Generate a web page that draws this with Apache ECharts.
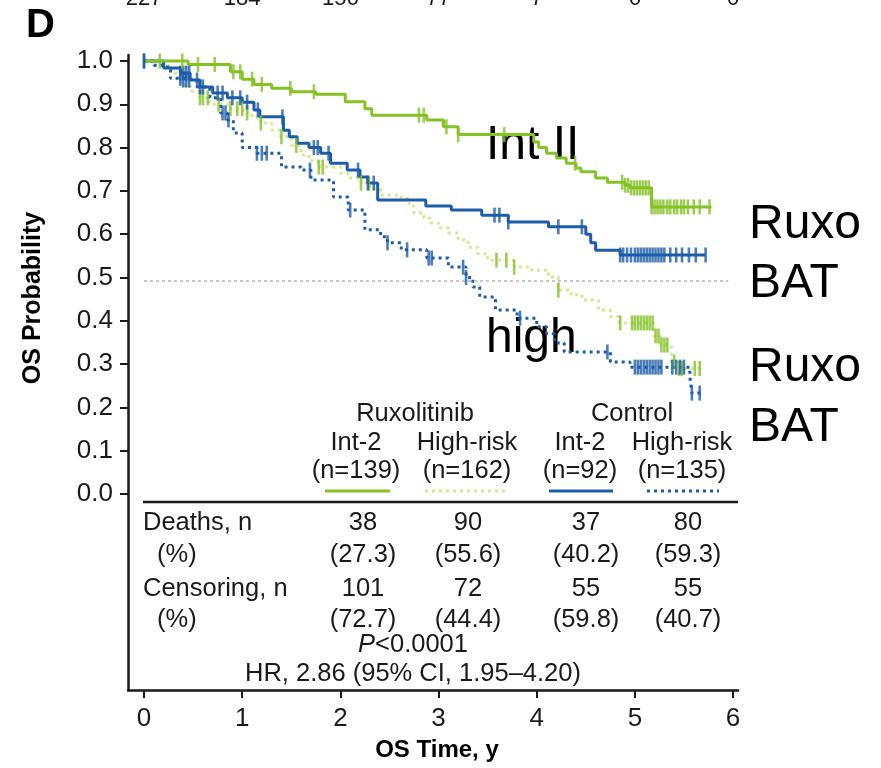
<!DOCTYPE html>
<html>
<head>
<meta charset="utf-8">
<script src="https://cdn.jsdelivr.net/npm/echarts@6/dist/echarts.min.js"></script>
<style>html,body{margin:0;padding:0;background:#fff}#c{width:881px;height:768px}</style>
</head>
<body>
<div id="c"></div>
<script>
// ---------- data ----------
const xTicks = [0, 1, 2, 3, 4, 5, 6];
const yTicks = [0, 0.1, 0.2, 0.3, 0.4, 0.5, 0.6, 0.7, 0.8, 0.9, 1.0];
const topAtRisk = ['227', '184', '156', '77', '7', '0', '0'];

// Kaplan-Meier steps [time (y), OS probability]
const ruxInt2 = [[0,1],[0.45,0.992],[0.88,0.975],[1.0,0.958],[1.12,0.946],[1.3,0.937],[1.5,0.929],[1.75,0.923],[2.05,0.906],[2.25,0.89],[2.32,0.875],[2.88,0.864],[3.05,0.848],[3.2,0.83],[3.97,0.813],[4.02,0.8],[4.1,0.787],[4.2,0.776],[4.3,0.764],[4.4,0.753],[4.45,0.744],[4.6,0.73],[4.72,0.72],[4.9,0.713],[4.95,0.707],[5.17,0.663],[5.78,0.663]];
const ruxHigh = [[0,1],[0.1,0.99],[0.25,0.98],[0.32,0.96],[0.37,0.945],[0.47,0.93],[0.57,0.915],[0.67,0.9],[0.85,0.89],[1.01,0.88],[1.1,0.87],[1.19,0.857],[1.3,0.84],[1.39,0.825],[1.5,0.805],[1.6,0.783],[1.68,0.77],[1.77,0.755],[2.0,0.74],[2.1,0.73],[2.21,0.718],[2.3,0.705],[2.41,0.69],[2.62,0.683],[2.7,0.665],[2.75,0.649],[2.85,0.637],[2.92,0.626],[3.0,0.615],[3.1,0.603],[3.2,0.587],[3.3,0.57],[3.4,0.555],[3.5,0.54],[3.77,0.524],[3.95,0.517],[4.12,0.501],[4.22,0.471],[4.35,0.46],[4.46,0.448],[4.63,0.425],[4.75,0.41],[4.84,0.395],[5.19,0.365],[5.26,0.344],[5.37,0.305],[5.45,0.29],[5.68,0.29]];
const ctrlInt2 = [[0,1],[0.2,0.984],[0.37,0.972],[0.47,0.956],[0.57,0.94],[0.7,0.926],[0.85,0.915],[1.0,0.905],[1.12,0.887],[1.18,0.871],[1.42,0.84],[1.48,0.825],[1.56,0.81],[1.68,0.8],[1.8,0.787],[1.9,0.764],[2.07,0.748],[2.2,0.732],[2.28,0.718],[2.38,0.679],[2.87,0.665],[3.13,0.656],[3.44,0.644],[3.71,0.628],[4.12,0.617],[4.5,0.6],[4.55,0.58],[4.6,0.563],[4.85,0.552],[5.72,0.552]];
const ctrlHigh = [[0,1],[0.1,0.99],[0.24,0.98],[0.27,0.96],[0.4,0.956],[0.54,0.94],[0.67,0.915],[0.78,0.88],[0.85,0.864],[0.91,0.834],[1.0,0.8],[1.15,0.787],[1.4,0.755],[1.6,0.748],[1.7,0.725],[1.93,0.686],[2.08,0.656],[2.25,0.61],[2.41,0.594],[2.48,0.58],[2.62,0.564],[2.88,0.545],[3.1,0.524],[3.28,0.5],[3.35,0.478],[3.42,0.455],[3.58,0.425],[3.8,0.406],[4.0,0.386],[4.1,0.37],[4.18,0.349],[4.28,0.328],[4.75,0.305],[4.95,0.293],[5.56,0.27],[5.58,0.233],[5.7,0.233]];

// censoring times (y)
const ruxInt2Cens = [0.16,0.39,0.55,0.72,0.91,0.98,1.1,1.2,1.49,1.73,2.8,2.85,3.08,3.2,3.67,4.39,4.87,4.9,4.93,4.96,4.99,5.02,5.05,5.08,5.11,5.14,5.17,5.2,5.23,5.26,5.29,5.33,5.36,5.4,5.43,5.47,5.5,5.54,5.6,5.66,5.76];
const ruxHighCens = [0.57,0.6,0.65,0.76,0.88,0.95,1.0,1.05,1.19,1.4,1.55,1.78,1.82,2.21,2.29,3.59,3.69,3.77,4.22,4.85,4.97,5.0,5.03,5.06,5.09,5.12,5.15,5.18,5.21,5.24,5.27,5.3,5.33,5.4,5.45,5.48,5.61,5.66];
const ctrlInt2Cens = [0.0,0.37,0.4,0.43,0.46,0.54,0.57,0.6,0.75,0.8,0.9,0.98,1.05,1.16,1.41,1.73,1.77,1.88,2.18,2.28,2.34,3.57,3.62,3.71,4.22,4.46,4.85,4.88,4.92,4.96,5.0,5.03,5.06,5.09,5.12,5.15,5.18,5.21,5.24,5.27,5.3,5.36,5.42,5.48,5.55,5.62,5.72];
const ctrlHighCens = [0.0,0.37,0.4,0.43,0.46,0.8,0.83,0.86,1.15,1.2,1.25,1.69,2.1,2.48,2.68,2.9,2.93,3.25,3.28,3.83,4.72,5.0,5.03,5.06,5.09,5.12,5.15,5.18,5.21,5.24,5.27,5.38,5.42,5.46,5.5,5.58,5.66];

const medianRef = 0.493;

// table
const armNames = ['Ruxolitinib', 'Control'];
const riskNames = ['Int-2', 'High-risk', 'Int-2', 'High-risk'];
const nLabels = ['(n=139)', '(n=162)', '(n=92)', '(n=135)'];
const deaths = [38, 90, 37, 80];
const deathsPct = ['27.3', '55.6', '40.2', '59.3'];
const censoring = [101, 72, 55, 55];
const censoringPct = ['72.7', '44.4', '59.8', '40.7'];
const pText = '<0.0001';
const hrText = 'HR, 2.86 (95% CI, 1.95\u20134.20)';
const annotations = ['Int II', 'high', 'Ruxo', 'BAT', 'Ruxo', 'BAT'];

// ---------- styles ----------
const GREEN = '#84c225', LGREEN = '#d5e892', BLUE = '#1d5ca8';
const FONT = "'Liberation Sans', Arial, Helvetica, sans-serif";
const INK = '#1a1a1a';
const TFS = 25.5;

function survAt(curve, t) {
  let s = curve[0][1];
  for (const p of curve) { if (p[0] <= t) s = p[1]; else break; }
  return s;
}
function cens(curve, times) { return times.map(t => [t, survAt(curve, t)]); }

const chart = echarts.init(document.getElementById('c'), null, {renderer: 'canvas'});

const colX = [363, 468, 586, 688];
const texts = [];
function txt(x, y, s, opt) {
  texts.push(Object.assign({type: 'text', x: x, y: y, style: Object.assign({text: s, font: TFS + 'px ' + FONT, fill: INK, textAlign: 'center', textVerticalAlign: 'middle'}, opt || {})}));
}
txt(415, 414, armNames[0]); txt(632, 414, armNames[1]);
const hdrX = [356, 467, 580, 682];
riskNames.forEach((r, i) => txt(hdrX[i], 443, r));
nLabels.forEach((r, i) => txt(hdrX[i], 471, r));
txt(143, 523, 'Deaths, n', {textAlign: 'left'});
txt(157, 555, '(%)', {textAlign: 'left'});
txt(143, 589, 'Censoring, n', {textAlign: 'left'});
txt(157, 620, '(%)', {textAlign: 'left'});
deaths.forEach((v, i) => txt(colX[i], 523, String(v)));
deathsPct.forEach((v, i) => txt(colX[i], 555, '(' + v + ')'));
censoring.forEach((v, i) => txt(colX[i], 589, String(v)));
censoringPct.forEach((v, i) => txt(colX[i], 620, '(' + v + ')'));
texts.push({type: 'text', x: 413, y: 645, style: {rich: {i: {font: 'italic ' + TFS + 'px ' + FONT, fill: INK}, n: {font: TFS + 'px ' + FONT, fill: INK}}, text: '{i|P}{n|' + pText + '}', textAlign: 'center', textVerticalAlign: 'middle'}});
txt(413, 674, hrText);
// axis titles
txt(33, 298, 'OS Probability', {font: 'bold 25px ' + FONT, fill: '#000'});
texts[texts.length - 1].rotation = Math.PI / 2;
txt(437, 750, 'OS Time, y', {font: 'bold 24px ' + FONT, fill: '#000'});
// top cut-off numbers
const tickPx = xTicks.map(v => 144 + v * 98.2);
topAtRisk.forEach((s, i) => txt(tickPx[i], -1, s, {font: '22px ' + FONT}));
// panel letter
txt(26, 26, 'D', {font: 'bold 40px ' + FONT, textAlign: 'left', fill: '#000'});
// annotations
const annPos = [[486, 146], [486, 339], [749, 225], [749, 284], [749, 368], [749, 428]];
annotations.forEach((s, i) => txt(annPos[i][0], annPos[i][1], s, {font: '48px ' + FONT, textAlign: 'left', fill: '#000'}));

const lines = [
  {type: 'line', shape: {x1: 143, y1: 502, x2: 738, y2: 502}, style: {stroke: INK, lineWidth: 2.5}},
  {type: 'line', shape: {x1: 325, y1: 491, x2: 390, y2: 491}, style: {stroke: GREEN, lineWidth: 3}},
  {type: 'line', shape: {x1: 425, y1: 491, x2: 505, y2: 491}, style: {stroke: LGREEN, lineWidth: 3, lineDash: [3, 4]}},
  {type: 'line', shape: {x1: 549, y1: 491, x2: 613, y2: 491}, style: {stroke: BLUE, lineWidth: 3}},
  {type: 'line', shape: {x1: 647, y1: 491, x2: 719, y2: 491}, style: {stroke: BLUE, lineWidth: 3, lineDash: [3, 4]}}
];

const xMin = -0.163, xMax = 6.05;
const yMax = 1 + 6 / 433, yMin = -(690 - 494) / 433;

function kmSeries(name, data, color, dashed, z) {
  return {name, type: 'line', step: 'end', data, showSymbol: false, symbol: 'none', z,
    lineStyle: {color, width: 3, type: dashed ? [3, 4] : 'solid', cap: 'butt'}, silent: true, animation: false};
}
function censSeries(name, data, color, z) {
  return {name, type: 'scatter', data, symbol: 'rect', symbolSize: [2.6, 15], itemStyle: {color}, z, silent: true, animation: false};
}

const option = {
  animation: false,
  backgroundColor: '#fff',
  grid: {left: 128, right: 881 - 738, top: 55, bottom: 768 - 690, containLabel: false},
  xAxis: {
    type: 'value', min: xMin, max: xMax,
    axisLine: {onZero: false, lineStyle: {color: INK, width: 2.5}},
    axisTick: {customValues: xTicks, length: 8, lineStyle: {color: INK, width: 2}},
    axisLabel: {customValues: xTicks, fontFamily: FONT, fontSize: 26, color: INK, margin: 16, formatter: v => String(Math.round(v))},
    splitLine: {show: false}
  },
  yAxis: {
    type: 'value', min: yMin, max: yMax,
    axisLine: {onZero: false, lineStyle: {color: INK, width: 2.5}},
    axisTick: {customValues: yTicks, length: 8, lineStyle: {color: INK, width: 2}},
    axisLabel: {customValues: yTicks, fontFamily: FONT, fontSize: 26, color: INK, margin: 15, formatter: v => v.toFixed(1)},
    splitLine: {show: false}
  },
  series: [
    Object.assign(kmSeries('Ruxolitinib High-risk', ruxHigh, LGREEN, true, 2), {
      markLine: {silent: true, symbol: 'none', label: {show: false}, animation: false,
        lineStyle: {color: '#c8c8c8', type: [3, 3], width: 2},
        data: [[{coord: [0, medianRef]}, {coord: [5.95, medianRef]}]]}
    }),
    kmSeries('Control High-risk', ctrlHigh, BLUE, true, 3),
    kmSeries('Control Int-2', ctrlInt2, BLUE, false, 4),
    kmSeries('Ruxolitinib Int-2', ruxInt2, GREEN, false, 5),
    censSeries('Ruxolitinib High-risk censored', cens(ruxHigh, ruxHighCens), GREEN, 6),
    censSeries('Control High-risk censored', cens(ctrlHigh, ctrlHighCens), BLUE, 6),
    censSeries('Control Int-2 censored', cens(ctrlInt2, ctrlInt2Cens), BLUE, 7),
    censSeries('Ruxolitinib Int-2 censored', cens(ruxInt2, ruxInt2Cens), GREEN, 8)
  ],
  graphic: {elements: lines.concat(texts)}
};
chart.setOption(option);
</script>
</body>
</html>
